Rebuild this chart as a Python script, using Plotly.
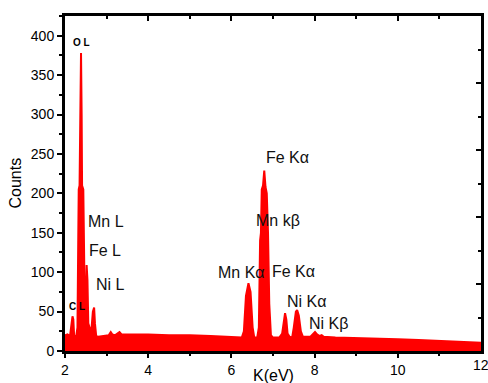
import plotly.graph_objects as go

energy = [2.00, 2.06, 2.12, 2.15, 2.18, 2.20, 2.22, 2.27, 2.30, 2.32, 2.33, 2.35, 2.37, 2.385,
          2.40, 2.41, 2.44, 2.46, 2.48, 2.50, 2.52, 2.54, 2.56, 2.60, 2.64, 2.67, 2.70, 2.72,
          2.75, 2.80, 2.95, 3.05, 3.10, 3.14, 3.20, 3.26, 3.31, 3.36, 3.5, 4.0, 4.5, 5.0, 5.5,
          6.0, 6.25, 6.30, 6.35, 6.41, 6.46, 6.51, 6.55, 6.62, 6.66, 6.69, 6.71, 6.73, 6.76,
          6.79, 6.82, 6.85, 6.88, 6.91, 6.95, 7.00, 7.15, 7.22, 7.26, 7.29, 7.32, 7.35, 7.40,
          7.46, 7.50, 7.55, 7.58, 7.62, 7.67, 7.72, 7.90, 7.96, 8.01, 8.06, 8.12, 8.17, 8.22,
          8.5, 9.0, 9.5, 10.0, 10.5, 11.0, 11.5, 12.0]
counts = [20, 21, 19, 30, 44, 40, 19, 19, 30, 150, 205, 210, 300, 378,
          300, 210, 205, 120, 35, 60, 109, 90, 35, 28, 30, 50, 55, 35,
          19, 18, 19, 20, 24, 21, 20, 22, 24, 21, 21, 21, 20, 20, 19,
          18, 17, 25, 70, 86, 75, 30, 17, 17, 30, 140, 150, 205, 210,
          229, 208, 200, 150, 60, 20, 17, 17, 22, 42, 48, 40, 22, 18,
          17, 30, 50, 52, 45, 25, 18, 18, 21, 24, 21, 19, 20, 18,
          17, 16.5, 16, 15, 14, 13, 12, 10.5]

x_ticks = [2, 4, 6, 8, 10, 12]
y_ticks = [0, 50, 100, 150, 200, 250, 300, 350, 400]

labels = ["O L", "C L", "Mn L", "Fe L", "Ni L", "Fe Kα", "Mn kβ", "Mn Kα", "Fe Kα", "Ni Kα", "Ni Kβ"]
label_x = [2.385, 2.05, 2.50, 2.53, 2.70, 6.78, 6.54, 5.63, 6.93, 7.29, 7.82]
label_y = [391, 56, 164, 128, 85, 245, 165, 99, 101, 63, 35]
label_small = [True, True, False, False, False, False, False, False, False, False, False]

FONT = "Liberation Sans, Arial, sans-serif"

fig = go.Figure()
fig.add_trace(go.Scatter(x=energy, y=counts, mode="lines", fill="tozeroy",
                         line=dict(color="#ff0000", width=2), fillcolor="#ff0000",
                         showlegend=False, hoverinfo="skip"))
fig.add_trace(go.Scatter(x=[2, 12], y=[0, 0], xaxis="x2", yaxis="y2", mode="lines",
                         line=dict(width=0, color="rgba(0,0,0,0)"),
                         showlegend=False, hoverinfo="skip"))

for t, x, y, s in zip(labels, label_x, label_y, label_small):
    if s:
        fig.add_annotation(x=x, y=y, xref="x", yref="y", text="<b>%s</b>" % t,
                           showarrow=False, xanchor="center" if t == "O L" else "left",
                           yanchor="middle", font=dict(family=FONT, size=10, color="black"))
    else:
        fig.add_annotation(x=x, y=y, xref="x", yref="y", text=t, showarrow=False,
                           xanchor="left", yanchor="middle",
                           font=dict(family=FONT, size=16, color="#111111"))

fig.add_annotation(x=0.5, y=0, xref="paper", yref="paper", text="K(eV)", showarrow=False,
                   xanchor="center", yanchor="middle", yshift=-24,
                   font=dict(family=FONT, size=16, color="black"))
fig.add_annotation(x=0, y=0.5, xref="paper", yref="paper", text="Counts", showarrow=False,
                   textangle=-90, xanchor="center", yanchor="middle", xshift=-50,
                   font=dict(family=FONT, size=16, color="black"))
# last x tick label sits on the page edge, place it explicitly
fig.add_annotation(x=x_ticks[-1], y=0, xref="x", yref="paper", text=str(x_ticks[-1]),
                   showarrow=False, xanchor="center", yanchor="top", yshift=-4,
                   font=dict(family=FONT, size=14, color="black"))

axis_common = dict(showgrid=False, zeroline=False, linecolor="black",
                   linewidth=3, tickcolor="black", tickwidth=2, automargin=False,
                   tickfont=dict(family=FONT, size=14, color="black"))

fig.update_layout(
    template="none",
    width=488, height=383,
    margin=dict(l=65, r=7, t=16, b=32, autoexpand=False),
    plot_bgcolor="white", paper_bgcolor="white",
    xaxis=dict(range=[2, 12], tickvals=x_ticks[:-1], ticks="outside", ticklen=4,
               showline=True, mirror=True,
               minor=dict(tickvals=[3, 5, 7, 9, 11], ticks="outside", ticklen=2, tickwidth=2, tickcolor="black"),
               **axis_common),
    yaxis=dict(range=[0, 425], tickvals=y_ticks, ticks="outside", ticklen=5,
               showline=True, mirror=True,
               minor=dict(dtick=25, tick0=0, ticks="outside", ticklen=3, tickwidth=2, tickcolor="black"),
               **axis_common),
    xaxis2=dict(range=[2, 12], overlaying="x", side="top", anchor="y2", tickvals=x_ticks,
                ticks="inside", ticklen=5, showticklabels=False, showline=False,
                minor=dict(tickvals=[3, 5, 7, 9, 11], ticks="inside", ticklen=3, tickwidth=2, tickcolor="black"),
                **axis_common),
    yaxis2=dict(range=[0, 425], overlaying="y", side="right", anchor="x2", dtick=85, tick0=0,
                ticks="inside", ticklen=5, showticklabels=False, showline=False,
                minor=dict(dtick=42.5, tick0=0, ticks="inside", ticklen=3, tickwidth=2, tickcolor="black"),
                **axis_common),
)

fig.write_html("out.html")
